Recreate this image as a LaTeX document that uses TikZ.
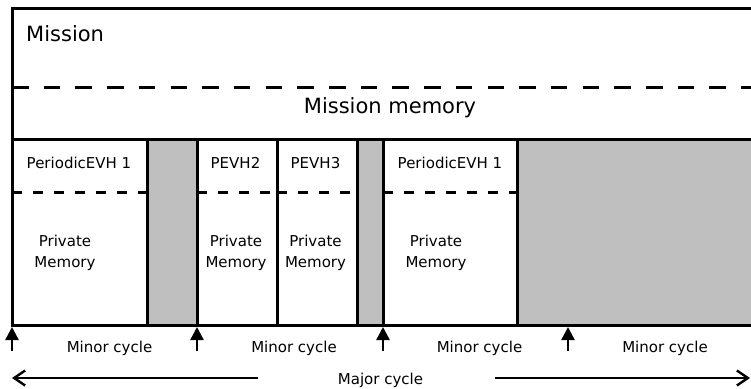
\documentclass[tikz,border=0pt]{standalone}
\usepackage{fontspec}
\setmainfont{DejaVu Sans}
\usetikzlibrary{arrows.meta}
\definecolor{idle}{RGB}{191,191,191}
\tikzset{
  thick line/.style={line width=3pt},
  bigdash/.style={line width=3pt, dash pattern=on 16.5pt off 15.2pt},
  smalldash/.style={line width=3pt, dash pattern=on 9.8pt off 11.2pt},
  big/.style={font=\fontsize{21}{25}\selectfont, inner sep=0pt},
  small/.style={font=\fontsize{15}{21}\selectfont, inner sep=0pt, align=center},
  tick/.style={line width=2.4pt, -{Triangle[width=13pt 0,length=13pt 0]}},
  major/.style={line width=2.4pt, -{Straight Barb[length=11pt,width=15pt,line width=2.4pt]}},
}
\begin{document}
\begin{tikzpicture}[x=1pt,y=-1pt]
\useasboundingbox (0,0) rectangle (751,388);
% idle (grey) slots
\fill[idle] (147,139) rectangle (197,325);
\fill[idle] (357,139) rectangle (383,325);
\fill[idle] (517,139) rectangle (752,325);
% outer frame
\draw[thick line] (753,8) -- (12,8) -- (12,325) -- (753,325);
\draw[thick line] (12,139) -- (753,139);
\draw[bigdash] (12,87) -- (753,87);
% column separators
\foreach \x in {147,197,277,357,383,517}
  \draw[thick line] (\x,139) -- (\x,325);
% private memory dashed separators
\draw[smalldash] (12,192) -- (147,192);
\draw[smalldash] (197,192) -- (277,192);
\draw[smalldash] (277,192) -- (357,192);
\draw[smalldash] (383,192) -- (517,192);
% texts
\node[big, anchor=base west] (mission) at (26,41) {Mission};
\node[big, anchor=base] (mmem) at (390,113) {Mission memory};
\node[small, anchor=base] (p1) at (79,168) {PeriodicEVH 1};
\node[small, anchor=base] (p2) at (235.5,168) {PEVH2};
\node[small, anchor=base] (p3) at (315.5,168) {PEVH3};
\node[small, anchor=base] (p4) at (450,168) {PeriodicEVH 1};
\node[small, anchor=base] (m1a) at (65,246.7) {Private};
\node[small, anchor=base] (m1b) at (65,267.7) {Memory};
\node[small, anchor=base] (m2a) at (236,246.7) {Private};
\node[small, anchor=base] (m2b) at (236,267.7) {Memory};
\node[small, anchor=base] (m3a) at (315.5,246.7) {Private};
\node[small, anchor=base] (m3b) at (315.5,267.7) {Memory};
\node[small, anchor=base] (m4a) at (436,246.7) {Private};
\node[small, anchor=base] (m4b) at (436,267.7) {Memory};
\node[small, anchor=base] (c1) at (109.5,352.3) {Minor cycle};
\node[small, anchor=base] (c2) at (294,352.3) {Minor cycle};
\node[small, anchor=base] (c3) at (479.5,352.3) {Minor cycle};
\node[small, anchor=base] (c4) at (665,352.3) {Minor cycle};
\node[small, anchor=base] (maj) at (380.5,384.5) {Major cycle};
% minor-cycle ticks
\foreach \x/\n in {12/a,197/b,383/c,568/d} {
  \coordinate (t\n0) at (\x,351);
  \coordinate (t\n1) at (\x,327);
  \draw[tick] (t\n0) -- (t\n1);
}
% major cycle arrows
\coordinate (ml0) at (258,378);
\coordinate (ml1) at (12,378);
\coordinate (mr0) at (495,378);
\coordinate (mr1) at (750,378);
\draw[major] (ml0) -- (ml1);
\draw[major] (mr0) -- (mr1);
\end{tikzpicture}
\end{document}
